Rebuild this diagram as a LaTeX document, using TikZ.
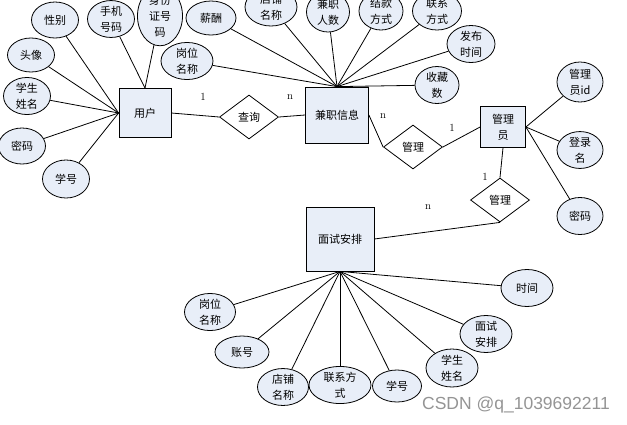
\documentclass[tikz,border=0pt]{standalone}
\usepackage{fontspec}
\newfontfamily\cjk{Noto Sans CJK SC}
\newfontfamily\wmfont{Liberation Sans}
\usepackage{tikz}
\usetikzlibrary{shapes.geometric, positioning}
\definecolor{boxfill}{HTML}{E8EEF8}

\begin{document}
\begin{tikzpicture}[x=1pt, y=-1pt,
entity/.style={draw, thick, fill=boxfill, minimum width=52pt, minimum height=49pt, inner sep=1pt, font=\cjk\fontsize{11}{16}\selectfont, align=center},
attr/.style={draw, thick, ellipse, fill=boxfill, minimum width=47pt, minimum height=36pt, inner sep=0pt, font=\cjk\fontsize{11}{16}\selectfont, align=center},
rel/.style={draw, thick, diamond, aspect=1.35, minimum width=59pt, minimum height=44pt, inner sep=0pt, font=\cjk\fontsize{11}{16}\selectfont},
card/.style={font=\fontsize{11}{13}\selectfont}
]
\useasboundingbox (0,0) rectangle (627,424);

% 实体
\node[entity] (user) at (145,113) {用户};
\node[entity, minimum width=63pt, minimum height=56pt] (job) at (337,115) {兼职信息};
\node[entity, minimum width=45pt, minimum height=41pt] (admin) at (503,127) {管理\\员};
\node[entity, minimum width=68pt, minimum height=64pt] (iv) at (340,239) {面试安排};

% 联系
\node[rel] (query) at (249,117) {查询};
\node[rel] (manage1) at (413,147) {管理};
\node[rel] (manage2) at (500,200) {管理};

% 用户属性
\node[attr] (u1) at (55,20) {性别};
\node[attr, minimum height=33pt] (u2) at (111,19) {手机\\号码};
\node[attr, minimum width=45pt, minimum height=44pt] (u3) at (160,16) {身份\\证号\\码};
\node[attr, minimum height=34pt] (u4) at (31,55) {头像};
\node[attr] (u5) at (27,96) {学生\\姓名};
\node[attr] (u6) at (22,146) {密码};
\node[attr, minimum height=38pt] (u7) at (66,179) {学号};

% 兼职信息属性
\node[attr, minimum width=50pt, minimum height=34pt] (j1) at (211,18) {薪酬};
\node[attr, minimum width=52pt] (j2) at (187,61) {岗位\\名称};
\node[attr, minimum width=52pt, minimum height=38pt] (j3) at (271,7) {店铺\\名称};
\node[attr, minimum width=43pt, minimum height=40pt] (j4) at (328,12) {兼职\\人数};
\node[attr, minimum width=44pt, minimum height=38pt] (j5) at (381,11) {结款\\方式};
\node[attr, minimum width=49pt, minimum height=38pt] (j6) at (437,11) {联系\\方式};
\node[attr, minimum width=48pt, minimum height=35pt] (j7) at (471,44) {发布\\时间};
\node[attr, minimum width=44pt, minimum height=34pt] (j8) at (437,85) {收藏\\数};

% 管理员属性
\node[attr, minimum width=46pt, minimum height=40pt] (a1) at (580,82) {管理\\员id};
\node[attr, minimum width=46pt] (a2) at (580,150) {登录\\名};
\node[attr, minimum width=46pt, minimum height=37pt] (a3) at (580,216) {密码};

% 面试安排属性
\node[attr, minimum width=51pt, minimum height=32pt] (i1) at (210,312) {岗位\\名称};
\node[attr, minimum width=54pt, minimum height=32pt] (i2) at (242,352) {账号};
\node[attr, minimum width=51pt, minimum height=34pt] (i3) at (283,387) {店铺\\名称};
\node[attr, minimum width=62pt, minimum height=35pt] (i4) at (340,385) {联系方\\式};
\node[attr, minimum width=49pt, minimum height=32pt] (i5) at (397,386) {学号};
\node[attr, minimum width=52pt, minimum height=38pt] (i6) at (452,368) {学生\\姓名};
\node[attr, minimum width=52pt, minimum height=37pt] (i7) at (486,334) {面试\\安排};
\node[attr, minimum width=52pt, minimum height=37pt] (i8) at (527,288) {时间};

% 连线
\foreach \n in {u1,u4,u5,u6,u7} \draw[thick] (user.west)--(\n);
\foreach \n in {u2,u3} \draw[thick] (user.north)--(\n);
\foreach \n in {j1,j2,j3,j4,j5,j6,j7,j8} \draw[thick] (job.north)--(\n);
\foreach \n in {a1,a2,a3} \draw[thick] (admin.east)--(\n);
\foreach \n in {i1,i2,i3,i4,i5,i6,i7,i8} \draw[thick] (iv.south)--(\n);

\draw[thick] (user.east)--(query.west);
\draw[thick] (query.east)--(job.west);
\draw[thick] (job.east)--(manage1.west);
\draw[thick] (manage1.east)--(admin.west);
\draw[thick] (admin.south)--(manage2.north);
\draw[thick] (manage2.south)--(iv.east);

% 基数
\node[card] (c1) at (203,97) {1};
\node[card] (c2) at (290,97) {n};
\node[card] (c3) at (383,116) {n};
\node[card] (c4) at (452,128) {1};
\node[card] (c5) at (485,177) {1};
\node[card] (c6) at (428,207) {n};

\node[font=\wmfont\fontsize{17.5}{20}\selectfont, text=black!42] (wm) at (516,405) {CSDN @q\_1039692211};
\end{tikzpicture}
\end{document}
